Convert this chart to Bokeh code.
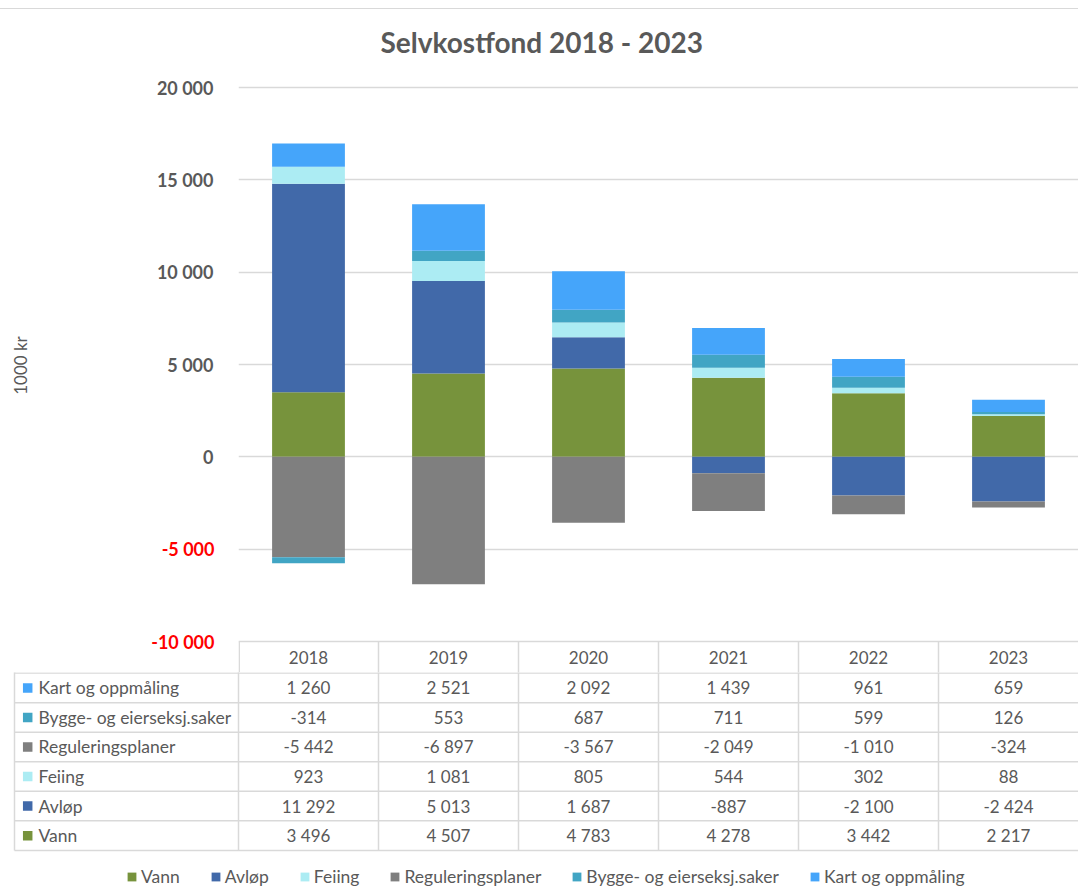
from bokeh.plotting import figure
from bokeh.models import (ColumnDataSource, FactorRange, FixedTicker, LinearAxis, Range1d,
                          Legend, LegendItem, Div, Spacer)
from bokeh.layouts import column
from bokeh.embed import file_html
from bokeh.resources import INLINE
from bokeh.core.properties import value

# ---------------- data ----------------
title_text = "Selvkostfond 2018 - 2023"
y_axis_title = "1000 kr"
years = ["2018", "2019", "2020", "2021", "2022", "2023"]
series = ["Vann", "Avløp", "Feiing", "Reguleringsplaner",
          "Bygge- og eierseksj.saker", "Kart og oppmåling"]
vann = [3496, 4507, 4783, 4278, 3442, 2217]
avlop = [11292, 5013, 1687, -887, -2100, -2424]
feiing = [923, 1081, 805, 544, 302, 88]
reguleringsplaner = [-5442, -6897, -3567, -2049, -1010, -324]
bygge = [-314, 553, 687, 711, 599, 126]
kart = [1260, 2521, 2092, 1439, 961, 659]
colors = ["#77933C", "#4169A9", "#ACECF3", "#7F7F7F", "#41A5C4", "#45A5FA"]
y_ticks = [-10000, -5000, 0, 5000, 10000, 15000, 20000]

values = [vann, avlop, feiing, reguleringsplaner, bygge, kart]


def fmt(v):
    return f"{v:,}".replace(",", " ")


# ---------------- layout constants (page pixels) ----------------
FONT = "Lato"
GREY = "#595959"
LINE = "#D9D9D9"
W = 1078
FRAME_L = 238          # left edge of plot frame
TOP_A = 9              # chart figure starts below the top rule
TICK_TOP_PX = 87       # page y of top tick
TICK_BOT_PX = 641      # page y of bottom tick
FRAME_T = 58           # page y of the frame top (space above top tick)
SPLIT = 672            # page y where the chart figure ends / table rows start
BOTTOM = 888
CAT_PX = (W - FRAME_L) / len(years)
SCALE = (TICK_BOT_PX - TICK_TOP_PX) / (y_ticks[-1] - y_ticks[0])   # px per unit


def py(page_y):
    """page y -> data y of chart"""
    return y_ticks[-1] - (page_y - TICK_TOP_PX) / SCALE


# ---------------- chart ----------------
pA = figure(x_range=FactorRange(*years), y_range=Range1d(py(SPLIT), py(FRAME_T)),
            width=W, height=SPLIT - TOP_A, output_backend="svg", toolbar_location=None,
            x_axis_location=None, min_border_left=FRAME_L, min_border_right=0,
            min_border_top=FRAME_T - TOP_A, min_border_bottom=0, outline_line_color=None,
            background_fill_color="white", border_fill_color="white")
pA.frame_align = False

pos = [0] * len(years)
neg = [0] * len(years)
for name, vals, col in zip(series, values, colors):
    bottoms, tops = [], []
    for i, v in enumerate(vals):
        if v >= 0:
            b = pos[i]
            pos[i] = b + v
        else:
            b = neg[i]
            neg[i] = b + v
        bottoms.append(b)
        tops.append(b + v)
    src = ColumnDataSource(dict(x=years, bottom=bottoms, top=tops))
    pA.vbar(x="x", bottom="bottom", top="top", width=0.52, source=src,
            fill_color=col, line_color=None)

pA.xgrid.visible = False
pA.ygrid.ticker = FixedTicker(ticks=y_ticks)
pA.ygrid.grid_line_color = LINE
pA.ygrid.grid_line_width = 1.3

pos_ticks = [t for t in y_ticks if t >= 0]
neg_ticks = [t for t in y_ticks if t < 0]

ax_in = pA.yaxis[0]
ax_in.ticker = FixedTicker(ticks=pos_ticks)
ax_in.major_label_overrides = {t: fmt(t) for t in pos_ticks}

ax_out = LinearAxis(ticker=FixedTicker(ticks=neg_ticks),
                    major_label_overrides={t: fmt(t) for t in neg_ticks},
                    axis_label=y_axis_title)
pA.add_layout(ax_out, "left")

for ax in (ax_in, ax_out):
    ax.axis_line_color = None
    ax.major_tick_line_color = None
    ax.minor_tick_line_color = None
    ax.major_tick_out = 0
    ax.major_tick_in = 0
    ax.minor_tick_out = 0
    ax.minor_tick_in = 0
    ax.major_label_text_font = FONT
    ax.major_label_text_font_size = "18px"
    ax.major_label_text_font_style = "bold"
ax_in.major_label_text_color = GREY
ax_in.major_label_standoff = 25
ax_out.major_label_text_color = "#FF0000"
ax_out.major_label_standoff = -61
ax_out.axis_label_text_font = FONT
ax_out.axis_label_text_font_size = "17px"
ax_out.axis_label_text_font_style = "normal"
ax_out.axis_label_text_color = GREY
ax_out.axis_label_standoff = 117

pA.title.text = title_text
pA.title.text_font = FONT
pA.title.text_font_size = "28px"
pA.title.text_font_style = "bold"
pA.title.text_color = GREY
pA.title.align = "left"
pA.title.offset = 142
pA.title.standoff = 0

# header row of the data table (inside the chart figure)
hdr_y = py((TICK_BOT_PX + SPLIT) / 2)
text_kw = dict(text_font=value(FONT), text_font_size="17px", text_color=GREY,
               text_baseline="middle")
pA.text(x=years, y=[hdr_y] * len(years), text=years, text_align="center", **text_kw)
hx = [0.005] + list(range(1, len(years)))
pA.segment(x0=hx, y0=[y_ticks[0]] * len(hx), x1=hx, y1=[py(SPLIT + 2)] * len(hx),
           line_color=LINE, line_width=1.5)

# ---------------- data table body + legend ----------------
pB = figure(x_range=Range1d(-FRAME_L / CAT_PX, len(years)),
            y_range=Range1d(BOTTOM, SPLIT),
            width=W, height=BOTTOM - SPLIT, output_backend="svg", toolbar_location=None,
            x_axis_location=None, y_axis_location=None, min_border=0,
            min_border_left=0, min_border_right=0, min_border_top=0, min_border_bottom=0,
            outline_line_color=None, background_fill_color="white",
            border_fill_color="white")
pB.frame_align = False
pB.xgrid.visible = False
pB.ygrid.visible = False


def px_x(page_x):
    return (page_x - FRAME_L) / CAT_PX


row_h = 29.55
n_rows = len(series)
row_edges = [SPLIT + 0.6 + i * row_h for i in range(n_rows + 1)]
left_x = px_x(14)

pB.segment(x0=[left_x] * len(row_edges), y0=row_edges,
           x1=[len(years)] * len(row_edges), y1=row_edges,
           line_color=LINE, line_width=1.5)
vx = [left_x] + list(range(len(years)))
pB.segment(x0=vx, y0=[SPLIT - 2] * len(vx), x1=vx, y1=[row_edges[-1]] * len(vx),
           line_color=LINE, line_width=1.5)

label_kw = dict(text_kw)
label_kw["text_font_size"] = "17.5px"

legend_items = []
sq_x = px_x(27.2)
lab_x = px_x(38)
for k, (name, vals, col) in enumerate(zip(series, values, colors)):
    r = n_rows - 1 - k
    yc = (row_edges[r] + row_edges[r + 1]) / 2
    pB.text(x=[i + 0.5 for i in range(len(years))], y=[yc] * len(years),
            text=[fmt(v) for v in vals], text_align="center", **text_kw)
    pB.text(x=[lab_x], y=[yc], text=[name], text_align="left", **label_kw)
    sq = pB.rect(x=[sq_x], y=[yc], width=9.5, height=9.5, width_units="screen",
                 height_units="screen", fill_color=col, line_color=None)
    legend_items.append(LegendItem(label=name, renderers=[sq]))

legend = Legend(items=legend_items, orientation="horizontal", location=(126, 1),
                glyph_width=11, glyph_height=11, label_standoff=4, spacing=30,
                padding=0, margin=0, border_line_color=None, background_fill_alpha=0,
                label_text_font=FONT, label_text_font_size="17.5px",
                label_text_color=GREY)
pB.add_layout(legend)

gap = Spacer(width=W, height=8, margin=0)
top_line = Div(text="", width=W, height=1, margin=0,
               styles={"background-color": "#D9D9D9"})

layout = column(gap, top_line, pA, pB, spacing=0)

open("out.html", "w").write(file_html(layout, INLINE))
